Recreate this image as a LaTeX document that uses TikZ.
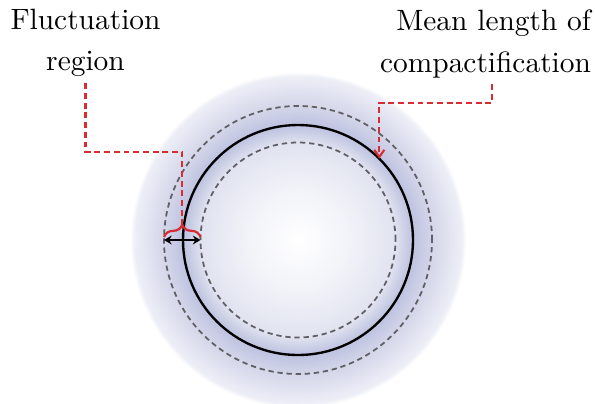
\documentclass[tikz,border=0pt]{standalone}
\usepackage{amsmath,amssymb,amstext}
\usetikzlibrary{arrows.meta,calc,decorations.pathreplacing}

\definecolor{fluctred}{RGB}{214,44,50}
\definecolor{ringgray}{RGB}{95,95,100}
\pgfdeclareradialshading{haloshade}{\pgfpointorigin}{%
  rgb(0bp)=(1,1,1);
  rgb(7.3bp)=(0.95,0.953,0.975);
  rgb(14.1bp)=(0.88,0.89,0.94);
  rgb(16.7bp)=(0.74,0.76,0.875);
  rgb(19.5bp)=(0.83,0.84,0.915);
  rgb(23.8bp)=(0.93,0.935,0.968);
  rgb(24.4bp)=(1,1,1);
  rgb(50bp)=(1,1,1)}

\tikzset{
  labeltext/.style={inner sep=2pt, font=\normalsize},
  fluctline/.style={fluctred, line width=0.7pt, dash pattern=on 2pt off 1.3pt},
  ringdash/.style={ringgray, semithick, dash pattern=on 1.8pt off 1.3pt},
}

\begin{document}
\begin{tikzpicture}[x=0.34pt,y=0.34pt]
\useasboundingbox (0,0) rectangle (595,403);
\coordinate (c) at (298,163);
\shade[shading=haloshade] ($(c)+(-172,-172)$) rectangle ($(c)+(172,172)$);
\foreach \r in {97.5,134} {
    \draw[ringdash] (c) circle[radius=\r];
}
\draw[thick] (c) circle[radius=115];

\node[labeltext, align=center] (fluct) at (85.5,360) {Fluctuation\\[2pt]region};
\node[labeltext, align=right, anchor=north east] (mean) at (597.4,399.3) {Mean length of\\[2pt]compactification};

\coordinate (bl) at ($(c)+(-134,3)$);
\coordinate (br) at ($(c)+(-97.5,3)$);
\coordinate (ftip) at ($(c)+(-115.75,15)$);
\coordinate (fknee) at (ftip |- 0,251);
\coordinate (mtip) at ($(c)+(45:115)$);
\coordinate (mknee) at (mtip |- 0,300);

\draw[fluctred, line width=0.75pt, decorate, decoration={brace, amplitude=4.2pt}] (bl) -- (br);
\draw[thick, {Stealth[length=2.6pt,width=3pt]}-{Stealth[length=2.6pt,width=3pt]}] ($(c)+(-134,0)$) -- ($(c)+(-97.5,0)$);

\draw[fluctline] (fluct.south) |- (fknee) -- (ftip);
\draw[fluctline, -{Straight Barb[length=2.4pt,width=3.4pt]}] ($(mean.south)+(6.5,0)$) |- (mknee) -- (mtip);
\end{tikzpicture}
\end{document}
